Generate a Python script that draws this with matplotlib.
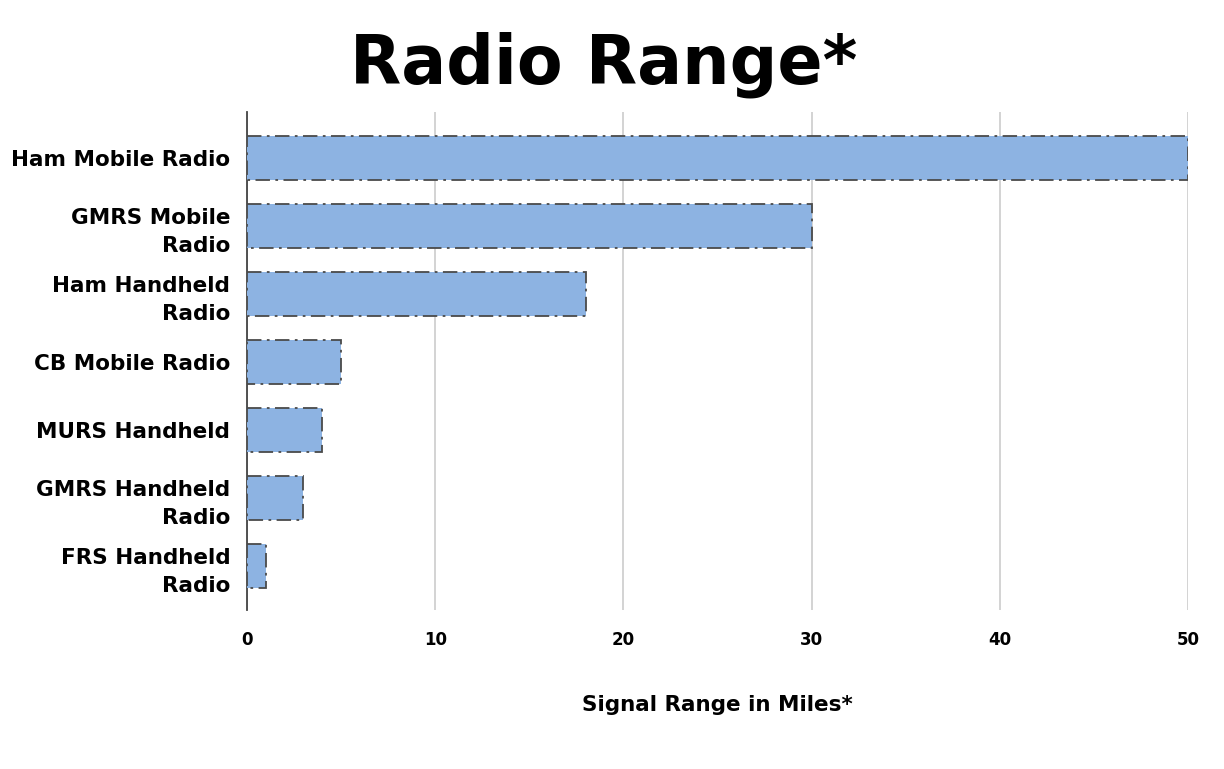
import matplotlib.pyplot as plt

# Radio types and approximate range (miles)
radios = ['Ham Mobile Radio', 'GMRS Mobile\nRadio', 'Ham Handheld\nRadio',
          'CB Mobile Radio', 'MURS Handheld', 'GMRS Handheld\nRadio',
          'FRS Handheld\nRadio']
miles = [50, 30, 18, 5, 4, 3, 1]
xticks = [0, 10, 20, 30, 40, 50]

fig = plt.figure(figsize=(12.24, 7.69), dpi=100)
ax = fig.add_axes([0.2018, 0.2068, 0.7688, 0.6476])

ypos = list(range(len(radios)))
ax.barh(ypos, miles, height=0.65, color='#8db3e2', edgecolor='#4a4a4a',
        linestyle=(0, (8, 3, 1.5, 3)), linewidth=1.3, zorder=3)

ax.set_xlim(0, 50)
ax.set_ylim(6.65, -0.68)
ax.set_xticks(xticks)
ax.set_yticks(ypos)
ax.set_yticklabels(radios, fontsize=15.5, fontweight='bold',
                   family='DejaVu Sans', linespacing=1.5)
for lab in ax.get_xticklabels():
    lab.set_fontsize(12)
    lab.set_fontweight('bold')
    lab.set_family('DejaVu Sans')

ax.grid(axis='x', color='#d0d0d0', linewidth=1.3, zorder=0)
ax.tick_params(axis='x', length=0, pad=15)
ax.tick_params(axis='y', length=0, pad=12)
for s in ['top', 'right', 'bottom']:
    ax.spines[s].set_visible(False)
ax.spines['left'].set_color('#444444')
ax.spines['left'].set_linewidth(1.3)

ax.set_xlabel('Signal Range in Miles*', fontsize=15.5, fontweight='bold',
              family='DejaVu Sans', labelpad=33)

fig.text(0.493, 0.916, 'Radio Range*', ha='center', va='center',
         fontsize=48, fontweight='bold', family='DejaVu Sans')

fig.savefig('out.png', dpi=100)
